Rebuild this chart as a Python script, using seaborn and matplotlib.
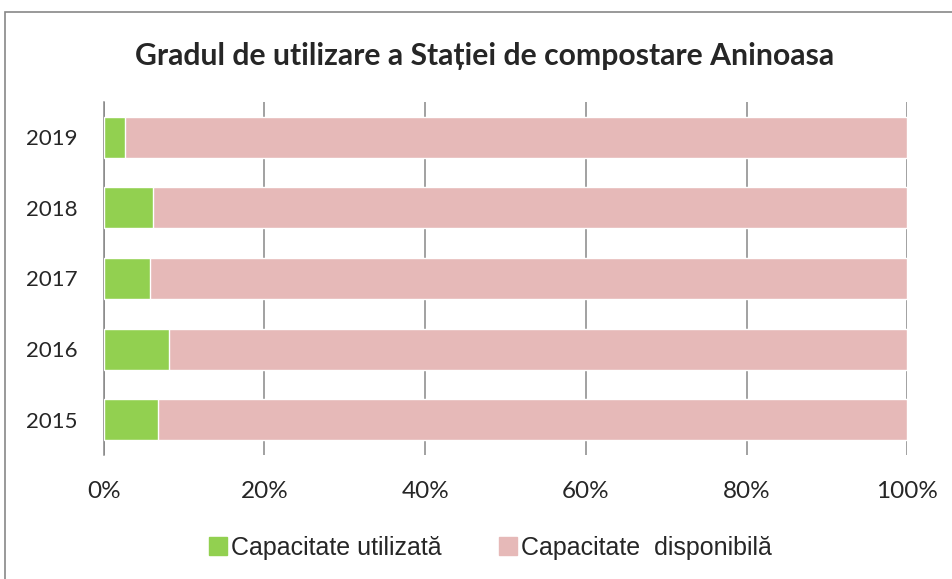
import pandas as pd
import seaborn as sns
import matplotlib.pyplot as plt
from matplotlib.patches import Rectangle
from matplotlib.ticker import PercentFormatter

# --- DATE ---
years = ["2015", "2016", "2017", "2018", "2019"]
used_pct = [6.8, 8.1, 5.8, 6.1, 2.6]
avail_pct = [100 - v for v in used_pct]

title = "Gradul de utilizare a Stației de compostare Aninoasa"
lbl_used = "Capacitate utilizată"
lbl_avail = "Capacitate  disponibilă"

df = pd.DataFrame({"an": years, "utilizat": used_pct, "disponibil": avail_pct})
df["total"] = df["utilizat"] + df["disponibil"]
order = years[::-1]

sns.set_style("white")
plt.rcParams["font.family"] = ["Lato", "DejaVu Sans"]

fig = plt.figure(figsize=(9.52, 5.79), dpi=100)
ax = fig.add_axes([0.109, 0.214, 0.844, 0.61])

# bara totala (roz) apoi partea utilizata (verde) peste ea
sns.barplot(data=df, x="total", y="an", order=order, orient="h",
            color="#E6B9B8", width=0.58, ax=ax, zorder=2, saturation=1)
sns.barplot(data=df, x="utilizat", y="an", order=order, orient="h",
            color="#92D050", width=0.58, ax=ax, zorder=3, saturation=1)

ax.set_xlim(0, 100)
ax.set_xticks([0, 20, 40, 60, 80, 100])
ax.xaxis.set_major_formatter(PercentFormatter(decimals=0))
ax.grid(axis="x", color="#878787", lw=1.1, zorder=0)
ax.set_axisbelow(True)
for s in ["top", "right", "bottom"]:
    ax.spines[s].set_visible(False)
ax.spines["left"].set_color("#878787")
ax.spines["left"].set_linewidth(1.1)
ax.tick_params(axis="x", length=0, pad=19, labelsize=17.5)
ax.tick_params(axis="y", length=0, pad=19, labelsize=16)
ax.set_xlabel("")
ax.set_ylabel("")

fig.suptitle(title, x=0.509, y=0.928, fontsize=21.7, fontweight="bold")

handles = [Rectangle((0, 0), 1, 1, color="#92D050"),
           Rectangle((0, 0), 1, 1, color="#E6B9B8")]
fig.legend(handles, [lbl_used, lbl_avail], loc="center", ncol=2,
           bbox_to_anchor=(0.515, 0.054), frameon=False, handlelength=0.72,
           handleheight=0.72, handletextpad=0.16, columnspacing=2.3,
           prop={"family": "Liberation Sans", "size": 18})

# chenarul graficului
fig.patches.append(Rectangle((5 / 952, -0.1), 1.1, 1 - 12 / 579 + 0.1,
                             transform=fig.transFigure, fill=False,
                             edgecolor="#878787", lw=1.2))

fig.savefig("out.png", dpi=100)
